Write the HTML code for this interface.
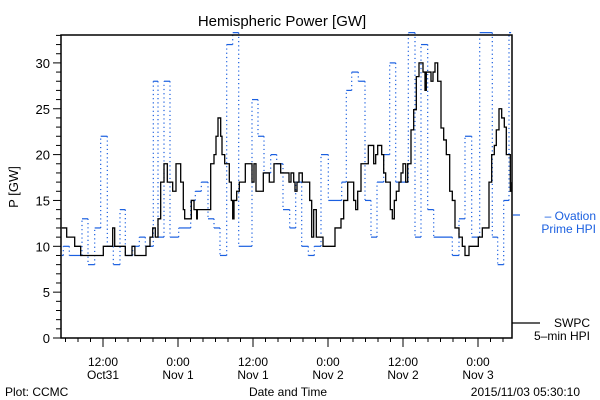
<!DOCTYPE html>
<html><head><meta charset="utf-8"><style>
body{margin:0;background:#fff;}
svg{display:block;font-family:"Liberation Sans",sans-serif;}
</style></head><body>
<svg id="chart" width="600" height="400">
<text x="282" y="26" text-anchor="middle" font-size="15">Hemispheric Power [GW]</text>
<text transform="translate(18,187) rotate(-90)" text-anchor="middle" font-size="13">P [GW]</text>
<g id="yticks"></g>
<g id="xticks"></g>
<g id="series"></g>
<rect x="61" y="35" width="451" height="303" fill="none" stroke="#000" stroke-width="1.5"/>
<text x="5" y="396" font-size="12">Plot: CCMC</text>
<text x="288" y="396" text-anchor="middle" font-size="12">Date and Time</text>
<text x="580" y="396" text-anchor="end" font-size="12">2015/11/03 05:30:10</text>
<g>
<line x1="513" y1="215" x2="520" y2="215" stroke="#1a5fe0" stroke-width="1.2"/>
<text x="596" y="220" text-anchor="end" font-size="12" fill="#1a5fe0">– Ovation</text>
<text x="596" y="233" text-anchor="end" font-size="12" fill="#1a5fe0">Prime HPI</text>
</g>
<g>
<line x1="512" y1="323" x2="540" y2="323" stroke="#000" stroke-width="1.2"/>
<text x="590" y="327" text-anchor="end" font-size="12">SWPC</text>
<text x="590" y="340" text-anchor="end" font-size="12">5–min HPI</text>
</g>
</svg>
<script>
// hours since 2015-10-31 00:00
const blueStart = [5.4,5.65,6.61,8.64,9.6,10.67,11.63,12.69,13.65,14.72,15.57,16.75,17.81,18.77,20.05,20.8,21.76,22.72,24.11,26.03,26.77,27.73,28.8,29.76,30.72,31.79,32.75,33.71,35.84,36.8,37.76,38.83,39.79,40.8,41.87,42.83,43.79,44.85,45.81,46.88,48.05,50.19,50.93,51.79,52.85,53.92,54.88,55.84,56.91,57.87,58.83,60.85,61.92,62.88,63.95,64.91,67.89,68.96,69.92,70.99,72.27,74.29,75.15,76.11,76.96];
const blueValues = [9,10,9,13,8,12,22,10,8,14,9,10,11,10,28,11,28,11,12,15,16,17,13,12,9,32,35,10,26,22,18,20,19,14,12,17,10,9,10,20,15,17,27,29,28,15,11,17,20,30,17,35,11,32,14,11,9,13,22,11,35,11,8,15,35];
const blackTimes = [5.4,6.08,6.19,7.25,7.47,8.32,8.43,11.95,12.05,13.23,13.55,13.87,15.36,15.57,16.53,16.64,17.0,17.1,18.77,18.88,19.52,19.95,20.37,20.8,21.23,21.76,22.29,22.83,23.15,23.68,24.43,24.85,25.07,25.71,26.13,26.56,26.99,27.09,28.48,29.23,29.76,30.08,30.4,30.83,31.04,31.47,31.89,32.21,32.53,32.75,32.96,33.39,33.81,34.45,34.77,35.31,35.84,36.16,36.48,37.23,37.65,38.29,38.61,39.36,40.21,40.43,41.55,41.76,42.08,42.51,42.72,43.04,43.36,43.79,43.89,44.64,45.07,45.39,45.71,46.13,46.99,47.2,48.48,49.12,49.76,50.08,50.51,51.15,51.68,52.11,52.43,52.75,53.28,54.13,54.45,54.99,55.31,55.63,55.95,56.27,56.59,56.91,57.23,57.65,57.97,58.29,58.61,58.93,59.36,59.68,60.0,60.43,60.75,61.28,61.71,62.13,62.56,62.88,63.2,63.52,63.73,64.27,64.48,64.8,65.12,65.55,66.08,66.51,66.93,67.47,67.89,68.32,68.96,69.49,69.92,70.45,70.56,71.41,72.05,72.69,73.33,73.76,74.19,74.61,74.93,75.36,75.79,76.21,76.53,76.96,77.17,77.4];
const blackValues = [12,12,11,11,10,10,9,9,10,10,12,10,10,9,9,10,10,9,9,10,11,12,11,13,17,19,17,17,16,19,17,14,13,13,15,14,13,14,14,19,20,22,24,22,20,19,19,17,15,13,15,16,17,17,19,19,17,19,16,16,18,18,17,19,19,18,18,17,18,17,16,17,18,18,17,17,15,11,14,11,11,10,10,12,12,13,15,17,17,15,14,16,19,19,21,21,19,20,21,21,20,18,17,17,14,13,15,16,17,18,19,17,19,22.7,24.9,28.5,30,30,29,27,29,29,28,29,30,28,22.9,21.6,20,16,15,12,11,10,9,9,10,10,11,12,12,17,20,21,22.7,25,24,23,20,20,16,17];
const yTickLabels = ["0","5","10","15","20","25","30"];
const xTickHours = [12,24,36,48,60,72];
const xTickLine1 = ["12:00","0:00","12:00","0:00","12:00","0:00"];
const xTickLine2 = ["Oct31","Nov 1","Nov 1","Nov 2","Nov 2","Nov 3"];

const X0=61,X1=512,Y0=338,Y1=35,HMIN=5.4,HMAX=77.6,VMAX=33;
const xS=h=>103+(h-12)*6.25;
const yS=v=>Y0-Math.min(v,VMAX+0.3)*9.17;
const NS="http://www.w3.org/2000/svg";
function mk(t,a,p){const e=document.createElementNS(NS,t);for(const k in a)e.setAttribute(k,a[k]);p.appendChild(e);return e;}

const yg=document.getElementById('yticks');
for(let v=0;v<=VMAX;v++){
  const major=v%5===0;
  const t=mk('line',{x1:X0-(major?8:5),x2:X0,y1:yS(v),y2:yS(v),stroke:'#000'},yg);
  
  
}
yTickLabels.forEach(s=>{
  const tx=mk('text',{x:50,y:yS(+s)+5,'text-anchor':'end','font-size':13},yg);
  tx.textContent=s;
  
  
});
const xg=document.getElementById('xticks');
for(let h=6;h<=HMAX;h+=2){
  const major=h%12===0;
  const t=mk('line',{x1:xS(h),x2:xS(h),y1:Y0,y2:Y0+(major?9:4),stroke:'#000'},xg);
  
  
}
xTickHours.forEach((h,i)=>{
  const a=mk('text',{x:xS(h),y:366,'text-anchor':'middle','font-size':12},xg);
  a.textContent=xTickLine1[i];
  
  
  const b=mk('text',{x:xS(h),y:379,'text-anchor':'middle','font-size':12},xg);
  b.textContent=xTickLine2[i];
  
  
});

const sg=document.getElementById('series');
const blue=mk('g',{},sg);


for(let i=0;i<blueStart.length;i++){
  const xa=xS(Math.max(blueStart[i],HMIN));
  const xb=xS(i+1<blueStart.length?blueStart[i+1]:HMAX-0.3);
  const y=yS(blueValues[i]);
  const h=mk('line',{x1:xa,x2:xb,y1:y,y2:y,stroke:'#1a5fe0','stroke-width':1.2},blue);
  
  
  if(i+1<blueStart.length){
    const v=mk('line',{x1:xb,x2:xb,y1:y,y2:yS(blueValues[i+1]),stroke:'#1a5fe0','stroke-width':1.2,'stroke-dasharray':'1.2 3'},blue);
    
    
  }
}
let d='';
for(let i=0;i<blackTimes.length;i++){
  const x=xS(blackTimes[i]),y=yS(blackValues[i]);
  if(i===0)d+='M'+x+','+y;else d+='H'+x+'V'+y;
}
const p=mk('path',{d:d,fill:'none',stroke:'#000','stroke-width':1.3},sg);


</script>
</body></html>
